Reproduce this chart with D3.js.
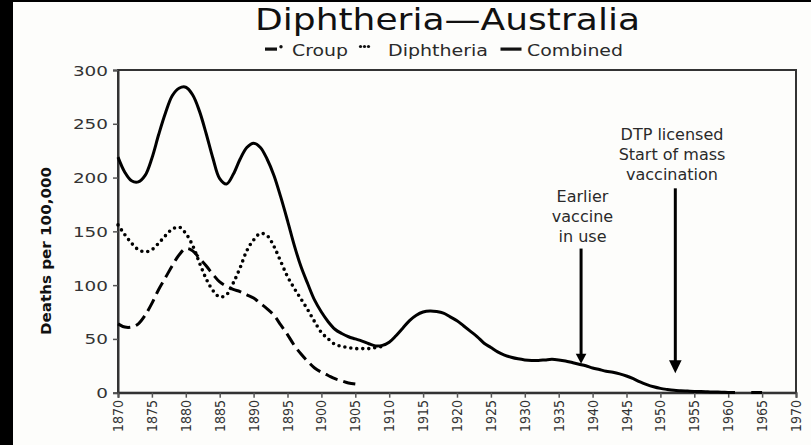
<!DOCTYPE html>
<html><head><meta charset="utf-8">
<script src="https://cdn.jsdelivr.net/npm/d3@7"></script>
<style>html,body{margin:0;padding:0;background:#000;}svg{display:block;}</style>
</head><body>
<script>
// ---- data ----
const combinedYears = [1870,1871,1872,1873,1874,1875,1876,1877,1878,1879,1880,1881,1882,1883,1884,1885,1886,1887,1888,1889,1890,1891,1892,1893,1894,1895,1896,1897,1898,1899,1900,1901,1902,1903,1904,1905,1906,1907,1908,1909,1910,1911,1912,1913,1914,1915,1916,1917,1918,1919,1920,1921,1922,1923,1924,1925,1926,1927,1928,1929,1930,1931,1932,1933,1934,1935,1936,1937,1938,1939,1940,1941,1942,1943,1944,1945,1946,1947,1948,1949,1950,1951,1952,1953,1954,1955,1956,1957,1958,1959,1960,1961,1962,1963.4,1964,1965];
const combinedValues = [219,205,197,196,202,218,240,260,276,283,284,277,262,241,218,199,194,203,217,228,232,228,217,202,182,160,137,117,101,86,75,66,59,55,52,50,48,45.5,43.5,44,47,53,60,67,72,75,76,75.5,74,70.5,67,62,57,52,46,42,38,35,33,31.5,30.5,30,30,30.5,31,30.5,29.5,28,26.5,25,23,21.5,20,19,17.5,15.5,13,10,7.5,5.5,4,3,2.2,1.8,1.5,1.2,1,0.8,0.6,0.5,0.3,0.2,null,0.2,0.2,0.2];
const diphYears = [1870,1871,1872,1873,1874,1875,1876,1877,1878,1879,1880,1881,1882,1883,1884,1885,1886,1887,1888,1889,1890,1891,1892,1893,1894,1895,1896,1897,1898,1899,1900,1901,1902,1903,1904,1905,1906,1907,1908,1909];
const diphValues = [156,147,139,133,131,133,139,146,152,154,148,137,121,106,95,89,91,102,116,132,142,148,146,136,122,108,97,87,77,66,56,50,45,43,42,41,41,41,42,43];
const croupYears = [1870,1871,1872,1873,1874,1875,1876,1877,1878,1879,1880,1881,1882,1883,1884,1885,1886,1887,1888,1889,1890,1891,1892,1893,1894,1895,1896,1897,1898,1899,1900,1901,1902,1903,1904,1905];
const croupValues = [64,61,61,64,72,83,96,107,118,128,134,132,125,118,110,103,99,96,94,91,88,83,78,72,63,54,44,36,29,23,19,16,13,11,9,8];
const xTickLabels = d3.range(1870, 1971, 5);
const yTickLabels = [0,50,100,150,200,250,300];
const legendLabels = ["Croup","Diphtheria","Combined"];
const annotations = [
  {lines:["DTP licensed","Start of mass","vaccination"], year:1952.2, top:190, tip:18},
  {lines:["Earlier","vaccine","in use"], year:1938.3, top:134, tip:27}
];
const titleText = "Diphtheria\u2014Australia";
const yLabel = "Deaths per 100,000";

// ---- layout ----
const W = 811, H = 445;
const svg = d3.select("body").append("svg").attr("width", W).attr("height", H);
svg.append("rect").attr("x",13).attr("y",2).attr("width",W-13).attr("height",H-2).attr("fill","#fdfdfb");

const x = d3.scaleLinear().domain([1870,1970]).range([118,796]);
const y = d3.scaleLinear().domain([0,300]).range([392.7,70]);
const txt = "#2a2a2a";
const font = "DejaVu Sans, Verdana, sans-serif";

function stretch(sel, len){ sel.attr("textLength", len).attr("lengthAdjust","spacingAndGlyphs"); }

// title
const t = svg.append("text").attr("x",447.5).attr("y",30).attr("text-anchor","middle")
  .attr("font-family",font).attr("font-size",31).attr("fill","#111").text(titleText);
stretch(t, 385);

// legend
const lg = svg.append("g");
lg.append("rect").attr("x",265).attr("y",47.5).attr("width",12).attr("height",3.2).attr("fill","#111");
lg.append("circle").attr("cx",281).attr("cy",46.8).attr("r",1.7).attr("fill","#111");
[360.5,364.5,368.5].forEach(d=>lg.append("circle").attr("cx",d).attr("cy",46.5).attr("r",1.6).attr("fill","#111"));
lg.append("rect").attr("x",500.5).attr("y",47.5).attr("width",21).attr("height",3.2).attr("fill","#111");
const legPos = [[292,56],[388,100],[527,96]];
legendLabels.forEach((l,i)=>{
  const e = lg.append("text").attr("x",legPos[i][0]).attr("y",56).attr("font-family",font)
    .attr("font-size",15).attr("fill",txt).text(l);
  stretch(e, legPos[i][1]);
});

// plot box
svg.append("rect").attr("x",118).attr("y",70).attr("width",678).attr("height",322.7)
  .attr("fill","none").attr("stroke","#333").attr("stroke-width",2);

// y axis
const yAxis = svg.append("g").attr("transform","translate(118,0)")
  .call(d3.axisLeft(y).tickValues(yTickLabels).tickSize(5).tickPadding(5).tickFormat(d3.format("d")));
yAxis.select(".domain").attr("stroke","#333").attr("stroke-width",2);
yAxis.selectAll(".tick line").attr("stroke","#555").attr("stroke-width",1.5);
yAxis.selectAll(".tick text").attr("font-family",font).attr("font-size",14).attr("fill","#333")
  .attr("dy","0.36em").each(function(d){ const s=String(d).length; d3.select(this).attr("textLength", s*11.7).attr("lengthAdjust","spacingAndGlyphs"); });

// x axis
const xAxis = svg.append("g").attr("transform","translate(0,392.7)")
  .call(d3.axisBottom(x).tickValues(xTickLabels).tickSize(5).tickFormat(d3.format("d")));
xAxis.select(".domain").attr("stroke","#333").attr("stroke-width",2);
xAxis.selectAll(".tick line").attr("stroke","#555").attr("stroke-width",1.5);
xAxis.selectAll(".tick text").remove();
const xl = svg.append("g").attr("class","xlabels");
xTickLabels.forEach(d=>{
  const e = xl.append("text")
    .attr("transform",`translate(${x(d)+5},400) rotate(-90)`)
    .attr("font-family",font).attr("font-size",14).attr("fill","#333")
    .attr("text-anchor","end").text(String(d));
  stretch(e, 32);
});

// y label
const yl = svg.append("text").attr("transform","translate(51,251) rotate(-90)")
  .attr("text-anchor","middle")
  .attr("font-family",font).attr("font-weight","bold").attr("font-size",14).attr("fill","#111").text(yLabel);
stretch(yl, 168);

// lines
function mk(ys, vs){ return ys.map((d,i)=>({year:d, v:vs[i]})); }
const line = d3.line().defined(d=>d.v!=null).x(d=>x(d.year)).y(d=>y(d.v)).curve(d3.curveCatmullRom.alpha(0.5));
svg.append("path").datum(mk(croupYears,croupValues)).attr("d",line).attr("fill","none")
  .attr("stroke","#000").attr("stroke-width",3).attr("stroke-dasharray","13,6");
svg.append("path").datum(mk(diphYears,diphValues)).attr("d",line).attr("fill","none")
  .attr("stroke","#000").attr("stroke-width",3.6).attr("stroke-dasharray","0,6").attr("stroke-linecap","round");
svg.append("path").datum(mk(combinedYears,combinedValues)).attr("d",line).attr("fill","none")
  .attr("stroke","#000").attr("stroke-width",3);

// annotations
annotations.forEach((a,k)=>{
  const cx = x(a.year);
  const g = svg.append("g");
  const base = k===0 ? 140 : 201.5;
  const tx = k===0 ? 672 : 582.5;
  a.lines.forEach((l,i)=>{
    g.append("text").attr("x",tx).attr("y",base+i*20).attr("text-anchor","middle")
      .attr("font-family",font).attr("font-size",16).attr("fill",txt).text(l);
  });
  const hw = k===0 ? 6.3 : 5.3, hh = k===0 ? 13 : 10;
  const tipY = y(a.tip);
  g.append("line").attr("x1",cx).attr("x2",cx).attr("y1",y(a.top)).attr("y2",tipY-hh+1)
    .attr("stroke","#000").attr("stroke-width",3);
  g.append("path").attr("d",`M${cx-hw},${tipY-hh}L${cx+hw},${tipY-hh}L${cx},${tipY}Z`).attr("fill","#000");
});
</script>
</body></html>
